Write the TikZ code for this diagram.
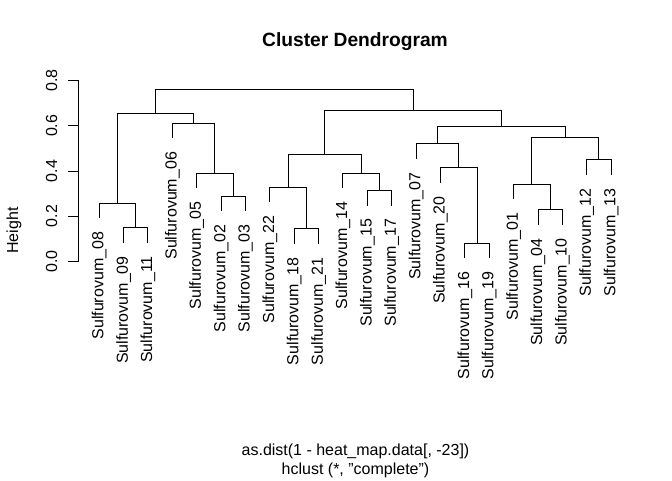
\documentclass[tikz,border=0pt]{standalone}
\usepackage{fontspec}
\setmainfont{Liberation Sans}
\begin{document}
\begin{tikzpicture}[x=1pt,y=1pt,line width=1pt,
  leaf/.style={rotate=90,anchor=east,inner sep=0pt,font=\fontsize{16}{19}\selectfont},
  ticklab/.style={rotate=90,inner sep=0pt,font=\fontsize{16}{19}\selectfont}]
\useasboundingbox (0,0) rectangle (672,480);
%Text
\node[anchor=base,inner sep=0pt,font=\fontsize{19.2}{23}\selectfont\bfseries] (title) at (355,433.3) {Cluster Dendrogram};
\node[anchor=base,inner sep=0pt,font=\fontsize{16}{19}\selectfont] (xlab) at (355.5,25) {as.dist(1 - heat\_map.data[, -23])};
\node[anchor=base,inner sep=0pt,font=\fontsize{16}{19}\selectfont] (sub) at (355.5,5.8) {hclust (*, "complete")};
\node[ticklab] (ylab) at (14,249.5) {Height};
%axis
\draw (78.7,218.7) -- (78.7,399.3);
\foreach \v [count=\k] in {0.0,0.2,0.4,0.6,0.8}{
  \draw (78.7,{218.7+\v*225.75}) -- ++(-10.4,0);
  \node[ticklab] (tk\k) at (51.5,{218.7+\v*225.75}) {\v};
}
%tree
\begin{scope}[shift={(74.8pt,218.7pt)},x=24.38pt,y=225.75pt]
\foreach \i/\n/\h in {1/08/0.257,2/09/0.149,3/11/0.149,4/06/0.611,5/05/0.391,6/02/0.289,7/03/0.289,8/22/0.328,9/18/0.144,10/21/0.144,11/14/0.390,12/15/0.314,13/17/0.314,14/07/0.521,15/20/0.415,16/16/0.081,17/19/0.081,18/01/0.342,19/04/0.229,20/10/0.229,21/12/0.449,22/13/0.449}{
  \coordinate (l\n) at (\i,{\h-0.067});
  \node[leaf] (s\n) at ([yshift=-13pt]l\n) {Sulfurovum\_\n};
}
\coordinate (m1) at (2.5,0.149);
\coordinate (m2) at (1.75,0.257);
\coordinate (m3) at (6.5,0.289);
\coordinate (m4) at (5.75,0.391);
\coordinate (m5) at (4.875,0.611);
\coordinate (m6) at (3.3125,0.654);
\coordinate (m7) at (9.5,0.144);
\coordinate (m8) at (8.75,0.328);
\coordinate (m9) at (12.5,0.314);
\coordinate (m10) at (11.75,0.390);
\coordinate (m11) at (10.25,0.472);
\coordinate (m12) at (16.5,0.081);
\coordinate (m13) at (15.75,0.415);
\coordinate (m14) at (14.875,0.521);
\coordinate (m15) at (19.5,0.229);
\coordinate (m16) at (18.75,0.342);
\coordinate (m17) at (21.5,0.449);
\coordinate (m18) at (20.125,0.549);
\coordinate (m19) at (17.5,0.596);
\coordinate (m20) at (13.875,0.667);
\coordinate (m21) at (8.59375,0.760);
\draw (l09) |- (m1) -| (l11);
\draw (l08) |- (m2) -| (m1);
\draw (l02) |- (m3) -| (l03);
\draw (l05) |- (m4) -| (m3);
\draw (l06) |- (m5) -| (m4);
\draw (m2) |- (m6) -| (m5);
\draw (l18) |- (m7) -| (l21);
\draw (l22) |- (m8) -| (m7);
\draw (l15) |- (m9) -| (l17);
\draw (l14) |- (m10) -| (m9);
\draw (m8) |- (m11) -| (m10);
\draw (l16) |- (m12) -| (l19);
\draw (l20) |- (m13) -| (m12);
\draw (l07) |- (m14) -| (m13);
\draw (l04) |- (m15) -| (l10);
\draw (l01) |- (m16) -| (m15);
\draw (l12) |- (m17) -| (l13);
\draw (m16) |- (m18) -| (m17);
\draw (m14) |- (m19) -| (m18);
\draw (m11) |- (m20) -| (m19);
\draw (m6) |- (m21) -| (m20);
\end{scope}
\end{tikzpicture}
\end{document}
